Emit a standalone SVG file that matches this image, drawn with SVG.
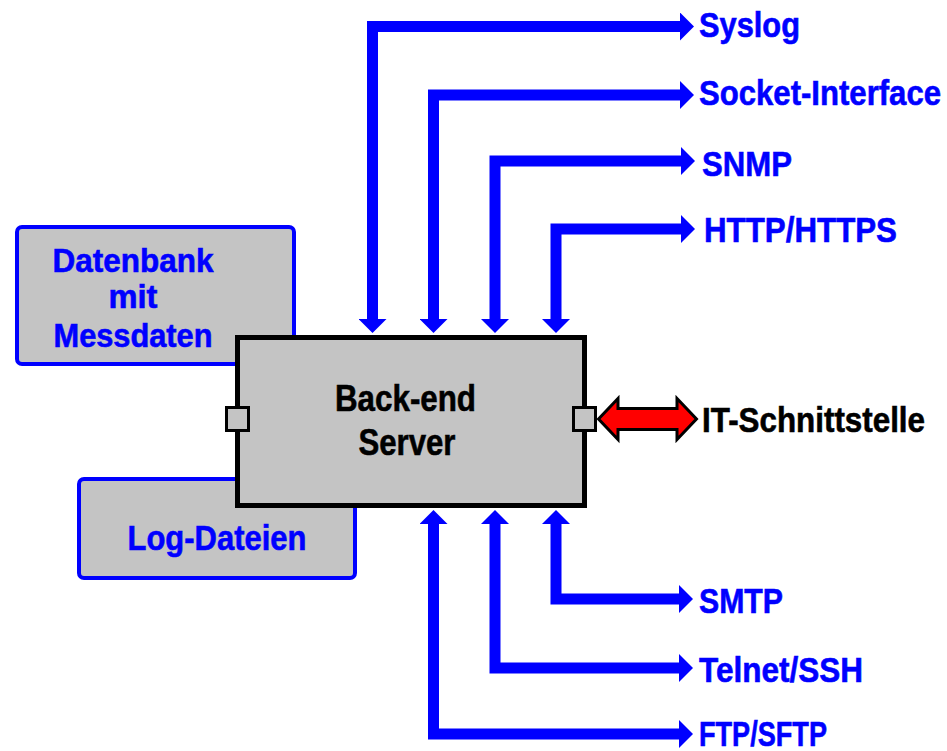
<svg xmlns="http://www.w3.org/2000/svg" width="947" height="751" viewBox="0 0 947 751">
<style>
.lbl{font-family:"Liberation Sans",Arial,sans-serif;font-weight:bold;fill:#0000ff;stroke:#0000ff;stroke-width:0.6px;font-size:35px}
.blk{fill:#000;stroke:#000}
.box{fill:#c4c4c4;stroke:#0000ff;stroke-width:4}
.conn{fill:none;stroke:#0000ff;stroke-width:11;stroke-linejoin:miter;marker-start:url(#ah);marker-end:url(#ah)}
</style>
<defs>
<marker id="ah" markerUnits="userSpaceOnUse" viewBox="0 0 14 28" refX="1" refY="14" markerWidth="14" markerHeight="28" orient="auto-start-reverse">
<path d="M0,0 L14,14 L0,28 Z" fill="#0000ff"/>
</marker>
</defs>
<rect width="947" height="751" fill="#fff"/>
<g id="datenbank">
<rect class="box" x="17" y="227" width="277" height="137" rx="5"/>
<text class="lbl" text-anchor="middle" style="font-size:33px" x="133" y="272" textLength="161" lengthAdjust="spacingAndGlyphs">Datenbank</text>
<text class="lbl" text-anchor="middle" style="font-size:33px" x="133" y="308" textLength="49" lengthAdjust="spacingAndGlyphs">mit</text>
<text class="lbl" text-anchor="middle" style="font-size:33px" x="133" y="347" textLength="159" lengthAdjust="spacingAndGlyphs">Messdaten</text>
</g>
<g id="logdateien">
<rect class="box" x="79" y="479" width="276" height="99" rx="5"/>
<text class="lbl" text-anchor="middle" x="217" y="550" textLength="179" lengthAdjust="spacingAndGlyphs">Log-Dateien</text>
</g>
<g id="server">
<rect x="237.5" y="337.5" width="347" height="168" fill="#c4c4c4" stroke="#000" stroke-width="5"/>
<text class="lbl blk" text-anchor="middle" style="font-size:37px" x="405.5" y="411" textLength="141" lengthAdjust="spacingAndGlyphs">Back-end</text>
<text class="lbl blk" text-anchor="middle" style="font-size:37px" x="407" y="455" textLength="97" lengthAdjust="spacingAndGlyphs">Server</text>
<rect x="226.5" y="407.5" width="22" height="23" fill="#c4c4c4" stroke="#000" stroke-width="3"/>
<rect x="573.5" y="407.5" width="22" height="23" fill="#c4c4c4" stroke="#000" stroke-width="3"/>
</g>
<g id="connectors">
<path class="conn" d="M372.5,320 V26.5 H681"/>
<path class="conn" d="M433.5,320 V95 H681"/>
<path class="conn" d="M495,320 V161 H682"/>
<path class="conn" d="M556,320 V229 H682"/>
<path class="conn" d="M556,523 V599 H680"/>
<path class="conn" d="M495,523 V668 H680"/>
<path class="conn" d="M433.5,523 V734 H680"/>
<path d="M598.5,419 L618,398.5 L618,408.5 L677,408.5 L677,398.5 L696.5,419 L677,439.5 L677,429.5 L618,429.5 L618,439.5 Z" fill="#ff0000" stroke="#000" stroke-width="3" stroke-linejoin="miter"/>
</g>
<g id="labels">
<text class="lbl" x="699" y="37" textLength="101" lengthAdjust="spacingAndGlyphs">Syslog</text>
<text class="lbl" x="699" y="105" textLength="242" lengthAdjust="spacingAndGlyphs">Socket-Interface</text>
<text class="lbl" x="702" y="176" textLength="90" lengthAdjust="spacingAndGlyphs">SNMP</text>
<text class="lbl" x="704" y="242" textLength="193" lengthAdjust="spacingAndGlyphs">HTTP/HTTPS</text>
<text class="lbl blk" x="702" y="432" textLength="223" lengthAdjust="spacingAndGlyphs">IT-Schnittstelle</text>
<text class="lbl" x="699" y="613" textLength="84" lengthAdjust="spacingAndGlyphs">SMTP</text>
<text class="lbl" x="699" y="682" textLength="164" lengthAdjust="spacingAndGlyphs">Telnet/SSH</text>
<text class="lbl" x="699" y="746" textLength="128" lengthAdjust="spacingAndGlyphs">FTP/SFTP</text>
</g>
</svg>
